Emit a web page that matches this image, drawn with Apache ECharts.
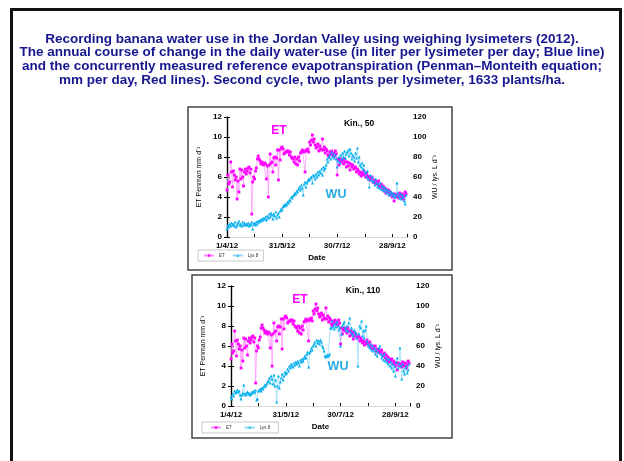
<!DOCTYPE html>
<html><head><meta charset="utf-8">
<script src="https://cdn.jsdelivr.net/npm/echarts@6.0.0/dist/echarts.min.js"></script>
<style>html,body{margin:0;padding:0;background:#fff}#c{width:624px;height:461px}</style>
</head><body><div id="c"></div>
<script>
// Day index 0 = 1/4/2012
const tickLabels = ['1/4/12', '31/5/12', '30/7/12', '28/9/12'];
const legendNames = ['ET', 'Lys 8'];
const panelTitles = ['Kin., 50', 'Kin., 110'];
// Reference evapotranspiration (Penman-Monteith), mm/day
const etValues = [
  4.7, 6.2, 5.3, 5.5, 7.5, 6.5, 5.0, 6.6, 6.2, 5.7,
  6.0, 3.8, 5.6, 4.5, 6.8, 5.8, 6.7, 6.0, 5.1, 6.5,
  6.8, 6.3, 6.6, 6.9, 7.0, 6.4, 6.8, 2.3, 5.5, 6.0,
  5.8, 6.6, 6.9, 7.8, 8.1, 7.8, 7.6, 7.3, 7.5, 7.3,
  7.2, 7.4, 7.3, 5.8, 7.1, 4.0, 7.2, 8.3, 7.4, 7.5,
  6.5, 7.9, 8.0, 7.2, 7.9, 8.7, 5.7, 8.7, 7.7, 8.9,
  9.0, 8.8, 8.3, 8.4, 8.5, 8.6, 8.5, 8.6, 8.2, 8.5,
  8.0, 7.9, 7.8, 7.5, 8.0, 7.3, 7.8, 7.2, 8.0, 7.6,
  8.4, 8.5, 8.7, 8.6, 8.5, 6.5, 8.7, 8.6, 8.8, 8.5,
  9.5, 9.2, 9.7, 10.2, 9.5, 9.8, 9.2, 8.9, 9.0, 9.3,
  8.6, 9.1, 8.8, 8.7, 9.8, 8.7, 9.0, 8.4, 8.8, 8.6,
  8.2, 8.0, 8.5, 8.3, 8.6, 8.2, 8.4, 8.1, 8.6, 8.3,
  6.2, 7.8, 7.2, 7.6, 7.8, 7.5, 7.7, 7.3, 7.8, 7.5,
  7.0, 7.5, 7.1, 7.4, 6.7, 7.3, 7.0, 7.2, 6.8, 6.9,
  7.0, 6.5, 6.8, 6.6, 6.3, 6.5, 6.1, 6.4, 6.2, 6.6,
  6.3, 6.0, 6.4, 6.1, 5.8, 6.0, 5.7, 5.9, 6.0, 5.5,
  5.7, 5.4, 5.6, 5.3, 5.4, 5.6, 5.1, 5.0, 5.3, 4.8,
  5.1, 4.6, 4.9, 4.4, 4.7, 4.5, 4.7, 4.2, 4.5, 4.3,
  4.0, 4.3, 3.6, 4.3, 4.1, 4.0, 4.2, 3.9, 4.4, 4.1,
  4.0, 4.3, 3.8, 4.1, 4.5, 4.3
];
// Water use, L per lysimeter per day (Kin., 50)
const wuKin50 = [
  8, 12, 10, 13, 11, 14, 12, 13, 11, 15,
  10, 12, 14, 16, 12, 13, 11, 15, 12, 14,
  12, 13, 12, 14, 11, 13, 12, 15, 8, 13,
  14, 12, 15, 13, 16, 15, 17, 16, 18, 17,
  19, 18, 20, 17, 21, 19, 23, 20, 24, 22,
  18, 23, 21, 25, 19, 22, 24, 20, 26, 28,
  27, 30, 32, 31, 33, 32, 35, 34, 37, 36,
  40, 39, 41, 42, 44, 43, 46, 45, 48, 50,
  47, 52, 49, 42, 53, 55, 50, 54, 56, 58,
  57, 59, 60, 54, 62, 61, 58, 63, 60, 65,
  62, 66, 64, 68, 62, 70, 67, 69, 72, 78,
  75, 80, 82, 78, 85, 80, 83, 79, 82, 78,
  70, 76, 80, 74, 82, 78, 84, 80, 86, 79,
  83, 85, 87, 81, 88, 84, 78, 82, 80, 76,
  84, 79, 89, 75, 80, 72, 70, 74, 68, 72,
  66, 64, 60, 66, 58, 50, 62, 57, 60, 55,
  56, 52, 58, 54, 50, 53, 49, 54, 48, 51,
  47, 50, 46, 48, 44, 47, 43, 46, 42, 45,
  44, 41, 43, 40, 42, 54, 44, 41, 39, 43,
  38, 42, 40, 36, 33, 42
];
// Water use, L per lysimeter per day (Kin., 110)
const wuKin110 = [
  9, 7, 12, 10, 15, 13, 14, 16, 14, 15,
  11, 7, 11, 13, 21, 12, 11, 13, 14, 12,
  13, 11, 12, 14, 13, 15, 14, 16, 6, 7,
  15, 16, 17, 15, 18, 17, 19, 21, 20, 22,
  24, 25, 28, 23, 30, 27, 22, 31, 20, 26,
  4, 20, 30, 18, 24, 28, 32, 26, 30, 34,
  32, 33, 37, 35, 40, 38, 42, 40, 39, 43,
  41, 44, 42, 45, 43, 40, 46, 44, 47, 45,
  48, 50, 48, 52, 54, 39, 53, 55, 58, 56,
  60, 62, 64, 60, 66, 63, 65, 62, 66, 64,
  60, 58, 55, 50, 49, 50, 51, 50, 52, 78,
  78, 85, 80, 77, 82, 79, 84, 80, 76, 78,
  60, 72, 80, 82, 84, 78, 76, 80, 75, 83,
  88, 74, 78, 72, 70, 76, 74, 72, 68, 40,
  72, 80, 78, 85, 70, 75, 68, 76, 80, 65,
  62, 60, 58, 62, 56, 60, 55, 58, 52, 56,
  50, 54, 58, 60, 52, 48, 50, 46, 52, 45,
  48, 44, 42, 47, 40, 44, 38, 42, 35, 40,
  30, 44, 48, 38, 42, 58, 40, 27, 42, 35,
  32, 38, 40, 33, 36, 42
];

const FONT = "'Liberation Sans', Arial, sans-serif";
const toPairs = arr => arr.map((v, i) => [i, v]);
const wuSets = [wuKin50, wuKin110];

const grids = [
  { left: 227, top: 117, width: 180, height: 120 },
  { left: 231, top: 286, width: 179, height: 120 }
];

const labelStyle = { fontSize: 8, fontWeight: 'bold', color: '#000', fontFamily: FONT };
const xAxes = [], yAxes = [], series = [], legends = [];
grids.forEach((g, gi) => {
  xAxes.push({
    gridIndex: gi, type: 'value', min: 0, max: 196, interval: 30,
    axisLine: { show: true, lineStyle: { color: '#000', width: 1.2 } },
    axisTick: { show: true, inside: true, length: 3, lineStyle: { color: '#000' } },
    axisLabel: Object.assign({ margin: 5, formatter: v => (v % 60 === 0 && v <= 180) ? tickLabels[v / 60] : '' }, labelStyle),
    splitLine: { show: false },
    name: 'Date', nameLocation: 'middle', nameGap: 17,
    nameTextStyle: { fontSize: 8, fontWeight: 'bold', color: '#000', fontFamily: FONT }
  });
  xAxes.push({
    gridIndex: gi, type: 'value', min: 0, max: 196, position: 'top',
    axisLine: { show: true, lineStyle: { color: '#d8d8d8', width: 1 } },
    axisTick: { show: false }, axisLabel: { show: false }, splitLine: { show: false }
  });
  yAxes.push({
    gridIndex: gi, type: 'value', min: 0, max: 12, interval: 2, position: 'left',
    axisLine: { show: true, lineStyle: { color: '#000', width: 1.2 } },
    axisTick: { show: true, length: 3, lineStyle: { color: '#000' } },
    axisLabel: Object.assign({ margin: 5 }, labelStyle),
    splitLine: { show: false },
    name: 'ET Penman mm d\u207B\u00B9', nameLocation: 'middle', nameRotate: 90, nameGap: 24,
    nameTextStyle: { fontSize: 7, color: '#000', fontFamily: FONT }
  });
  yAxes.push({
    gridIndex: gi, type: 'value', min: 0, max: 120, interval: 20, position: 'right',
    axisLine: { show: true, lineStyle: { color: '#000', width: 1.2 } },
    axisTick: { show: true, length: 3, lineStyle: { color: '#000' } },
    axisLabel: Object.assign({ margin: 6 }, labelStyle),
    splitLine: { show: false },
    name: 'WU / lys. L d\u207B\u00B9', nameLocation: 'middle', nameRotate: 90, nameGap: 25,
    nameTextStyle: { fontSize: 7, color: '#000', fontFamily: FONT }
  });
  series.push({
    name: legendNames[0], type: 'line', xAxisIndex: gi * 2, yAxisIndex: gi * 2,
    data: toPairs(etValues), symbol: 'rect', symbolSize: 2.8, showAllSymbol: true,
    itemStyle: { color: '#ff00ff' }, lineStyle: { color: '#ff8cff', width: 0.7 }
  });
  series.push({
    name: legendNames[1], type: 'line', xAxisIndex: gi * 2, yAxisIndex: gi * 2 + 1,
    data: toPairs(wuSets[gi]), symbol: 'triangle', symbolSize: 3, showAllSymbol: true,
    itemStyle: { color: '#00aeef' }, lineStyle: { color: '#8fd8f5', width: 0.7 }
  });
});

legends.push({
  data: legendNames, left: 198, top: 250, itemWidth: 10, itemHeight: 3, itemGap: 7,
  textStyle: { fontSize: 4.5, color: '#333', fontFamily: FONT },
  borderColor: '#bbb', borderWidth: 0.8, padding: [3, 5]
});
legends.push({
  data: legendNames, left: 202, top: 422, itemWidth: 10, itemHeight: 3, itemGap: 12,
  textStyle: { fontSize: 4.5, color: '#333', fontFamily: FONT },
  borderColor: '#bbb', borderWidth: 0.8, padding: [3, 8]
});

const titleText = 'Recording banana water use in the Jordan Valley using weighing lysimeters (2012).\n' +
  'The annual course of change in the daily water-use (in liter per lysimeter per day; Blue line)\n' +
  'and the concurrently measured reference evapotranspiration (Penman\u2013Monteith equation;\n' +
  'mm per day, Red lines). Second cycle, two plants per lysimeter, 1633 plants/ha.';

const option = {
  animation: false,
  backgroundColor: '#fff',
  grid: grids,
  xAxis: xAxes,
  yAxis: yAxes,
  legend: legends,
  series: series,
  graphic: [
    { type: 'rect', z: -1, shape: { x: 11.5, y: 9.5, width: 609, height: 480 }, style: { fill: 'none', stroke: '#111', lineWidth: 3 } },
    { type: 'rect', z: -1, shape: { x: 188, y: 107, width: 264, height: 163 }, style: { fill: 'none', stroke: '#444', lineWidth: 1.5 } },
    { type: 'rect', z: -1, shape: { x: 192, y: 275, width: 260, height: 163 }, style: { fill: 'none', stroke: '#444', lineWidth: 1.5 } },
    { type: 'text', style: { text: titleText, x: 312, y: 32, align: 'center', verticalAlign: 'top', lineHeight: 13.7,
        font: "bold 13.5px 'Liberation Sans', Arial, sans-serif", fill: '#16168f' } },
    { type: 'text', style: { text: panelTitles[0], x: 359, y: 124, align: 'center', verticalAlign: 'middle', font: "bold 8.5px 'Liberation Sans', Arial", fill: '#000' } },
    { type: 'text', style: { text: panelTitles[1], x: 363, y: 291, align: 'center', verticalAlign: 'middle', font: "bold 8.5px 'Liberation Sans', Arial", fill: '#000' } },
    { type: 'text', style: { text: 'ET', x: 279, y: 131, align: 'center', verticalAlign: 'middle', font: "bold 12px 'Liberation Sans', Arial", fill: '#ff00ff' } },
    { type: 'text', style: { text: 'ET', x: 300, y: 300, align: 'center', verticalAlign: 'middle', font: "bold 12px 'Liberation Sans', Arial", fill: '#ff00ff' } },
    { type: 'text', style: { text: 'WU', x: 336, y: 195, align: 'center', verticalAlign: 'middle', font: "bold 12.5px 'Liberation Sans', Arial", fill: '#29abe2' } },
    { type: 'text', style: { text: 'WU', x: 338, y: 367, align: 'center', verticalAlign: 'middle', font: "bold 12.5px 'Liberation Sans', Arial", fill: '#29abe2' } }
  ]
};
const chart = echarts.init(document.getElementById('c'), null, { renderer: 'canvas' });
chart.setOption(option);
</script></body></html>
